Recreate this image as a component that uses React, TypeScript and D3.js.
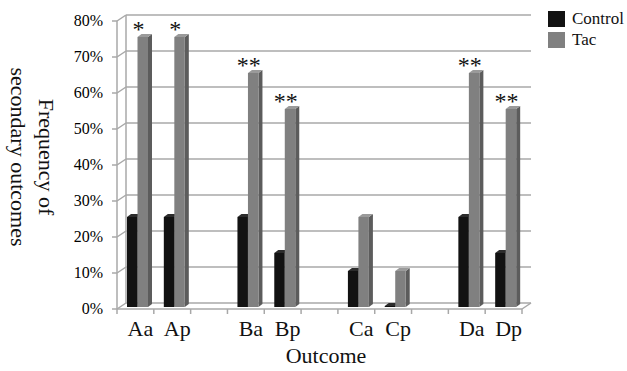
import React, { useMemo } from "react";
import * as d3 from "d3";

const WIDTH = 627;
const HEIGHT = 371;
// front plane of the plot and the 3D depth offset of the back wall
const FRONT = { left: 117, right: 522, top: 21, bottom: 309 };
const DEPTH = { dx: 9, dy: -6 };
const BAR_DEPTH = { dx: 4, dy: -3 };
const BAR_SHIFT = { dx: 0, dy: -2 };

const groups = [["Aa", "Ap"], ["Ba", "Bp"], ["Ca", "Cp"], ["Da", "Dp"]];
const categories = ["Aa", "Ap", "Ba", "Bp", "Ca", "Cp", "Da", "Dp"];
const controlValues = [0.25, 0.25, 0.25, 0.15, 0.1, 0.0, 0.25, 0.15];
const tacValues = [0.75, 0.75, 0.65, 0.55, 0.25, 0.1, 0.65, 0.55];
const stars = ["*", "*", "**", "**", "", "", "**", "**"];
const yTicks = [0, 0.1, 0.2, 0.3, 0.4, 0.5, 0.6, 0.7, 0.8];
const seriesNames = ["Control", "Tac"];

const COLORS = {
    Control: { front: "#121212", side: "#000000", top: "#2c2c2c" },
    Tac: { front: "#808080", side: "#5c5c5c", top: "#9a9a9a" },
};
const GRID = "#a8a8a8";
const FONT = "Liberation Serif";
const txt = { fontFamily: FONT };

const Bar3D = ({ x, w, yTop, yBase, color }) => {
    const x0 = x + BAR_SHIFT.dx;
    const yb = yBase + BAR_SHIFT.dy;
    const yt = Math.min(yTop + BAR_SHIFT.dy, yb - 1);
    const { dx, dy } = BAR_DEPTH;
    const side = `M${x0 + w},${yb} L${x0 + w + dx},${yb + dy} L${x0 + w + dx},${yt + dy} L${x0 + w},${yt} Z`;
    const top = `M${x0},${yt} L${x0 + dx},${yt + dy} L${x0 + w + dx},${yt + dy} L${x0 + w},${yt} Z`;
    return (
        <g>
            <path d={side} fill={color.side} />
            <path d={top} fill={color.top} />
            <rect x={x0} y={yt} width={w} height={yb - yt} fill={color.front} />
        </g>
    );
};

const App = () => {
    // slots: the categories with an empty slot between each pair
    const slots = useMemo(() => {
        const s = [];
        groups.forEach((g, i) => {
            g.forEach(c => s.push(c));
            if (i < groups.length - 1) s.push(`gap${i}`);
        });
        return s;
    }, []);

    const xScale = useMemo(() => d3.scaleBand()
        .domain(slots)
        .range([FRONT.left, FRONT.right])
        .paddingInner(0)
        .paddingOuter(0), [slots]);

    const yScale = useMemo(() => d3.scaleLinear()
        .domain([0, 0.8])
        .range([FRONT.bottom, FRONT.top]), []);

    const bw = xScale.bandwidth();
    const seriesScale = d3.scaleBand().domain(seriesNames).range([10, 31]);
    const boundaries = d3.range(slots.length + 1).map(i => FRONT.left + i * bw);

    return (
        <svg width={WIDTH} height={HEIGHT} style={{ position: "absolute", left: 0, top: 0, background: "#fff" }}>
            {/* walls and gridlines */}
            <g stroke={GRID} strokeWidth={1.5} fill="none">
                {yTicks.map(t => {
                    const yf = yScale(t);
                    return (
                        <g key={t}>
                            <line x1={FRONT.left} y1={yf} x2={FRONT.left + DEPTH.dx} y2={yf + DEPTH.dy} />
                            <line x1={FRONT.left + DEPTH.dx} y1={yf + DEPTH.dy} x2={FRONT.right + DEPTH.dx} y2={yf + DEPTH.dy} />
                            <line x1={FRONT.left - 5} y1={yf} x2={FRONT.left} y2={yf} />
                        </g>
                    );
                })}
                <line x1={FRONT.left} y1={FRONT.top} x2={FRONT.left} y2={FRONT.bottom} />
                <line x1={FRONT.left + DEPTH.dx} y1={FRONT.top + DEPTH.dy} x2={FRONT.left + DEPTH.dx} y2={FRONT.bottom + DEPTH.dy} />
                <line x1={FRONT.left} y1={FRONT.bottom} x2={FRONT.right} y2={FRONT.bottom} />
                <line x1={FRONT.right} y1={FRONT.bottom} x2={FRONT.right + DEPTH.dx} y2={FRONT.bottom + DEPTH.dy} />
                {boundaries.map((bx, i) => (
                    <line key={i} x1={bx} y1={FRONT.bottom} x2={bx} y2={FRONT.bottom + 5} />
                ))}
            </g>

            {/* y tick labels */}
            {yTicks.map(t => (
                <text key={t} x={103} y={yScale(t) + 5} textAnchor="end" style={txt} fontSize={16} fill="#000">
                    {d3.format(".0%")(t)}
                </text>
            ))}

            {/* bars */}
            {categories.map((c, i) => {
                const x0 = xScale(c);
                return (
                    <g key={c}>
                        <Bar3D x={x0 + seriesScale("Control")} w={seriesScale.bandwidth()} yTop={yScale(controlValues[i])} yBase={yScale(0)} color={COLORS.Control} />
                        <Bar3D x={x0 + seriesScale("Tac")} w={seriesScale.bandwidth()} yTop={yScale(tacValues[i])} yBase={yScale(0)} color={COLORS.Tac} />
                        {stars[i] && (
                            <text x={x0 + bw / 2 + 3} y={yScale(tacValues[i]) - 2} textAnchor="middle"
                                style={txt} fontSize={24} fill="#111">{stars[i]}</text>
                        )}
                        <text x={x0 + bw / 2 + 5} y={336} textAnchor="middle" style={txt} fontSize={22} fill="#111">{c}</text>
                    </g>
                );
            })}

            {/* axis titles */}
            <text x={326} y={363} textAnchor="middle" style={txt} fontSize={22} fill="#111">Outcome</text>
            <text transform="translate(39,157) rotate(90)" textAnchor="middle" style={txt} fontSize={22} fill="#111">
                <tspan x={0} dy={0}>Frequency of</tspan>
                <tspan x={0} dy={28}>secondary outcomes</tspan>
            </text>

            {/* legend */}
            {seriesNames.map((s, i) => (
                <g key={s} transform={`translate(548,${11 + i * 21})`}>
                    <rect width={17} height={16} fill={COLORS[s].front} />
                    <text x={24} y={13} style={txt} fontSize={17} fill="#111">{s}</text>
                </g>
            ))}
        </svg>
    );
};

export default App;
